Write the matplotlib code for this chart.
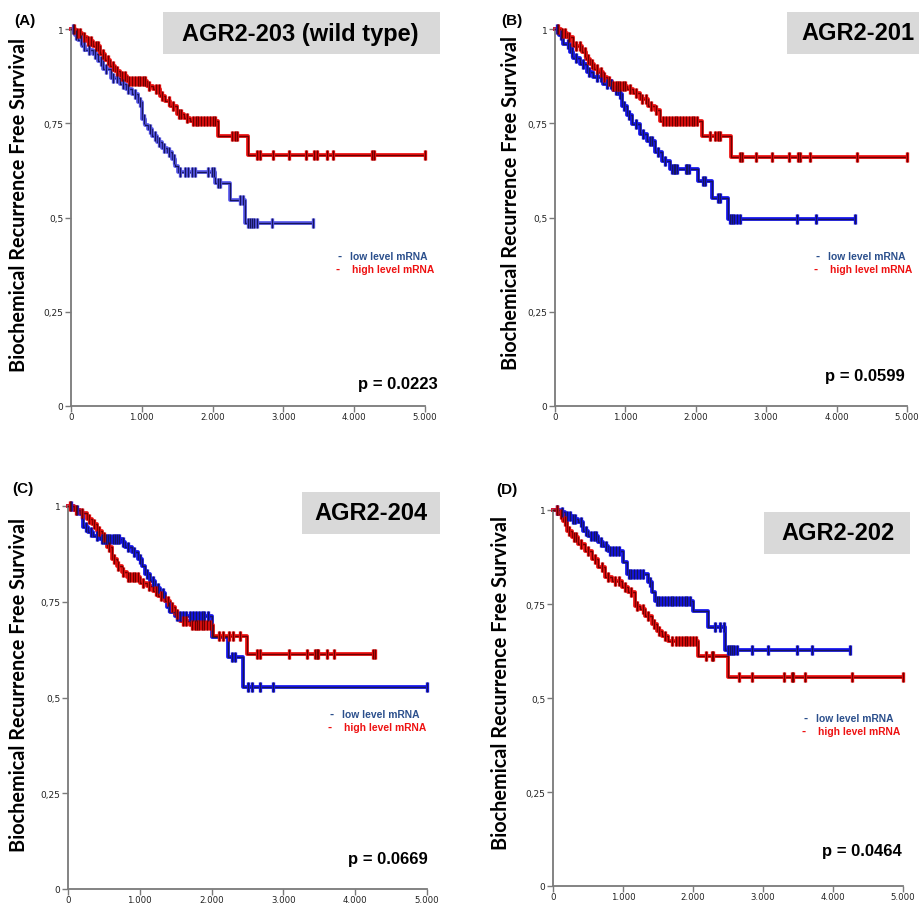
import numpy as np
import matplotlib.pyplot as plt
from matplotlib.patches import Rectangle

W, H = 920, 904

# ---- panel A: AGR2-203 (wild type) ----
a_low_t = [0, 60, 100, 150, 200, 310, 380, 452, 560, 692, 780, 861, 946, 1003, 1050,
           1088, 1150, 1215, 1290, 1356, 1420, 1469, 1511, 2034, 2246, 2458]
a_low_s = [1, 0.985, 0.97, 0.955, 0.945, 0.935, 0.915, 0.894, 0.87, 0.854, 0.84, 0.828,
           0.806, 0.761, 0.745, 0.735, 0.715, 0.70, 0.685, 0.674, 0.655, 0.637, 0.62,
           0.591, 0.546, 0.485]
a_low_end = 3418
a_low_cens = [30, 70, 140, 180, 260, 340, 420, 500, 600, 650, 740, 800, 900, 980, 1030,
              1120, 1180, 1250, 1320, 1390, 1450, 1540, 1610, 1657, 1704, 1751, 1940,
              1987, 2020, 2081, 2105, 2387, 2425, 2505, 2528, 2560, 2590, 2622, 2834, 3418]
a_high_t = [0, 60, 150, 226, 310, 410, 480, 551, 620, 692, 791, 1074, 1158, 1257, 1330,
            1398, 1497, 1600, 1681, 2076, 2500]
a_high_s = [1, 0.99, 0.98, 0.968, 0.955, 0.934, 0.918, 0.902, 0.888, 0.875, 0.862, 0.85,
            0.84, 0.822, 0.81, 0.796, 0.775, 0.765, 0.756, 0.717, 0.666]
a_high_end = 5000
a_high_cens = [40, 90, 130, 180, 240, 280, 350, 380, 450, 520, 590, 650, 720, 760, 820,
               860, 900, 940, 980, 1010, 1040, 1100, 1200, 1240, 1290, 1380, 1440, 1520,
               1560, 1640, 1720, 1760, 1800, 1840, 1880, 1920, 1960, 2000, 2040, 2270,
               2316, 2340, 2622, 2669, 2857, 3084, 3319, 3432, 3470, 3611, 3696, 4247,
               4280, 5000]

# ---- panel B: AGR2-201 ----
b_low_t = [0, 50, 120, 213, 261, 355, 450, 545, 687, 829, 900, 948, 1019, 1090, 1209,
           1303, 1422, 1517, 1635, 2038, 2227, 2464]
b_low_s = [1, 0.985, 0.96, 0.938, 0.922, 0.907, 0.885, 0.872, 0.854, 0.837, 0.828, 0.797,
           0.771, 0.749, 0.722, 0.704, 0.674, 0.649, 0.628, 0.596, 0.553, 0.497]
b_low_end = 4256
b_low_cens = [30, 90, 180, 240, 300, 400, 480, 600, 650, 740, 800, 860, 920, 980, 1050,
              1150, 1250, 1350, 1380, 1460, 1560, 1660, 1690, 1710, 1730, 1860, 1880,
              1900, 2100, 2130, 2320, 2350, 2480, 2510, 2540, 2580, 2630, 3436, 3711, 4256]
b_high_t = [0, 80, 166, 261, 379, 440, 498, 560, 616, 680, 735, 806, 1019, 1114, 1209,
            1327, 1422, 1493, 2085, 2498]
b_high_s = [1, 0.99, 0.978, 0.956, 0.938, 0.92, 0.907, 0.895, 0.885, 0.873, 0.863, 0.85,
            0.84, 0.83, 0.815, 0.797, 0.784, 0.757, 0.716, 0.66]
b_high_end = 5000
b_high_cens = [40, 100, 140, 200, 300, 350, 420, 470, 530, 590, 650, 700, 760, 830, 870,
               900, 930, 960, 990, 1060, 1150, 1240, 1290, 1360, 1440, 1540, 1580, 1620,
               1660, 1700, 1740, 1780, 1820, 1860, 1900, 1940, 1980, 2020, 2204, 2275,
               2322, 2346, 2621, 2663, 2858, 3081, 3318, 3445, 3483, 3616, 4289, 5000]

# ---- panel C: AGR2-204 ----
c_low_t = [0, 80, 167, 213, 283, 353, 446, 747, 794, 887, 980, 1026, 1072, 1142, 1212,
           1281, 1351, 1374, 1421, 1490, 2001, 2233, 2442]
c_low_s = [1, 0.99, 0.979, 0.944, 0.931, 0.922, 0.914, 0.905, 0.892, 0.879, 0.861, 0.844,
           0.822, 0.805, 0.787, 0.774, 0.752, 0.735, 0.722, 0.712, 0.657, 0.605, 0.528]
c_low_end = 5000
c_low_cens = [40, 120, 190, 250, 320, 400, 470, 500, 530, 560, 590, 620, 650, 680, 710,
              760, 840, 920, 1000, 1100, 1180, 1250, 1320, 1400, 1520, 1560, 1600, 1640,
              1700, 1740, 1780, 1820, 1860, 1900, 1950, 2280, 2330, 2512, 2558, 2674,
              2860, 5000]
c_high_t = [0, 80, 167, 260, 330, 399, 469, 539, 608, 678, 747, 817, 1003, 1096, 1189,
            1258, 1351, 1421, 1490, 1560, 1699, 2024, 2488]
c_high_s = [1, 0.99, 0.983, 0.966, 0.953, 0.936, 0.918, 0.892, 0.861, 0.844, 0.827, 0.814,
            0.80, 0.792, 0.779, 0.766, 0.753, 0.735, 0.718, 0.70, 0.689, 0.661, 0.613]
c_high_end = 4276
c_high_cens = [30, 110, 200, 290, 360, 430, 500, 570, 640, 700, 770, 840, 870, 900, 940,
               970, 1040, 1130, 1220, 1300, 1390, 1450, 1520, 1600, 1640, 1730, 1770,
               1800, 1830, 1860, 1900, 1940, 1980, 2100, 2160, 2240, 2300, 2400, 2628,
               2674, 3083, 3324, 3440, 3463, 3486, 3602, 3705, 4253, 4276]

# ---- panel D: AGR2-202 ----
d_low_t = [0, 100, 171, 267, 362, 433, 505, 648, 719, 790, 1005, 1052, 1362, 1410, 1457,
           2005, 2210, 2457]
d_low_s = [1, 0.994, 0.985, 0.976, 0.967, 0.945, 0.932, 0.914, 0.905, 0.892, 0.861, 0.83,
           0.808, 0.781, 0.759, 0.732, 0.688, 0.628]
d_low_end = 4243
d_low_cens = [60, 130, 200, 240, 280, 320, 400, 470, 540, 580, 620, 680, 750, 820, 860,
              900, 940, 1080, 1120, 1160, 1200, 1240, 1280, 1390, 1480, 1520, 1560, 1600,
              1640, 1680, 1720, 1760, 1800, 1840, 1880, 1920, 1960, 2314, 2386, 2448,
              2495, 2529, 2560, 2590, 2624, 2838, 3067, 3481, 3695, 4243]
d_high_t = [0, 76, 148, 195, 267, 362, 457, 552, 648, 743, 838, 981, 1076, 1171, 1243,
            1314, 1410, 1481, 1552, 1648, 2076, 2495]
d_high_s = [1, 0.989, 0.972, 0.945, 0.927, 0.91, 0.892, 0.87, 0.848, 0.821, 0.812, 0.794,
            0.781, 0.746, 0.737, 0.719, 0.697, 0.679, 0.666, 0.652, 0.613, 0.555]
d_high_end = 5000
d_high_cens = [50, 120, 170, 230, 300, 330, 400, 500, 600, 700, 780, 880, 940, 1030, 1120,
               1200, 1280, 1350, 1440, 1520, 1600, 1700, 1760, 1800, 1840, 1880, 1920,
               1960, 2000, 2040, 2181, 2267, 2290, 2662, 2848, 3305, 3410, 3433, 3600,
               4276, 5000]

panel_letters = ["(A)", "(B)", "(C)", "(D)"]
panel_titles = ["AGR2-203 (wild type)", "AGR2-201", "AGR2-204", "AGR2-202"]
p_values = ["p = 0.0223", "p = 0.0599", "p = 0.0669", "p = 0.0464"]
y_ticks = [0, 0.25, 0.5, 0.75, 1]
y_tick_labels = ["0", "0,25", "0,5", "0,75", "1"]
x_ticks = [0, 1000, 2000, 3000, 4000, 5000]
x_tick_labels = ["0", "1.000", "2.000", "3.000", "4.000", "5.000"]

BLUE_LIGHT = ["#5b5bef", "#1414f0", "#1414f0", "#1414f0"]
BLUE_DARK = "#16165c"
RED_LIGHT = "#ee1111"
RED_DARK = "#6e0000"


def fx(px):
    return px / W


def fy(py):
    return 1 - py / H


def draw_curve(ax, t, s, t_end, cens, light, dark):
    tt = list(t) + [t_end]
    ss = list(s) + [s[-1]]
    ax.step(tt, ss, where="post", color=light, lw=2.7, clip_on=False, zorder=2)
    ax.step(tt, ss, where="post", color=dark, lw=1.0, clip_on=False, zorder=3)
    idx = np.searchsorted(t, cens, side="right") - 1
    cy = np.asarray(s)[idx]
    ax.plot(cens, cy, ls="none", marker="|", ms=7.5, mew=2.4, color=light, clip_on=False, zorder=4)
    ax.plot(cens, cy, ls="none", marker="|", ms=7, mew=1.0, color=dark, clip_on=False, zorder=5)


fig = plt.figure(figsize=(9.2, 9.04), dpi=100)

# axes boxes in pixels: left, right, top, bottom
axes_px = [(71, 425, 30, 407), (555, 907, 30, 407), (68, 427, 507, 890), (553, 903, 511, 887)]
curves = [
    (a_low_t, a_low_s, a_low_end, a_low_cens, a_high_t, a_high_s, a_high_end, a_high_cens),
    (b_low_t, b_low_s, b_low_end, b_low_cens, b_high_t, b_high_s, b_high_end, b_high_cens),
    (c_low_t, c_low_s, c_low_end, c_low_cens, c_high_t, c_high_s, c_high_end, c_high_cens),
    (d_low_t, d_low_s, d_low_end, d_low_cens, d_high_t, d_high_s, d_high_end, d_high_cens),
]
letter_px = [(25, 21), (512, 21), (23, 489), (507, 490)]
title_box_px = [(163, 440, 13, 55), (787, 925, 13, 55), (302, 440, 493, 535), (764, 910, 513, 555)]
title_center_px = [(300, 34), (858, 34), (371, 514), (838, 534)]
ylabel_px = [(19, 205), (511, 203), (19, 685), (501, 683)]
legend_px = [(340, 257), (818, 257), (332, 715), (806, 719)]
p_px = [(398, 384), (865, 377), (388, 860), (862, 852)]

for i in range(4):
    l, r, t, b = axes_px[i]
    ax = fig.add_axes([fx(l), fy(b), (r - l) / W, (b - t) / H])
    lt, ls, le, lc, ht, hs, he, hc = curves[i]
    draw_curve(ax, lt, ls, le, lc, BLUE_LIGHT[i], BLUE_DARK)
    draw_curve(ax, ht, hs, he, hc, RED_LIGHT, RED_DARK)
    ax.set_xlim(0, 5000)
    ax.set_ylim(0, 1)
    ax.set_xticks(x_ticks)
    ax.set_xticklabels(x_tick_labels)
    ax.set_yticks(y_ticks)
    ax.set_yticklabels(y_tick_labels)
    for side in ("top", "right"):
        ax.spines[side].set_visible(False)
    for side in ("left", "bottom"):
        ax.spines[side].set_color("#7a7a7a")
        ax.spines[side].set_linewidth(1.3)
    ax.tick_params(direction="out", length=4, width=1, color="#7a7a7a",
                   labelsize=6.5, labelcolor="#222222", pad=1.5)
    ax.tick_params(axis="x", pad=0.5, labelsize=6.2)

    fig.text(fx(letter_px[i][0]), fy(letter_px[i][1]), panel_letters[i], ha="center",
             va="center", fontsize=11, fontweight="bold", family="Liberation Sans")

    bl, br, bt, bb = title_box_px[i]
    fig.patches.append(Rectangle((fx(bl), fy(bb)), (br - bl) / W, (bb - bt) / H,
                                 transform=fig.transFigure, facecolor="#d9d9d9",
                                 edgecolor="none", zorder=0))
    fig.text(fx(title_center_px[i][0]), fy(title_center_px[i][1]), panel_titles[i],
             ha="center", va="center", fontsize=17, fontweight="bold",
             family="Liberation Sans")

    fig.text(fx(ylabel_px[i][0]), fy(ylabel_px[i][1]), "Biochemical Recurrence Free Survival",
             rotation=90, ha="center", va="center", fontsize=14.3, fontweight="bold",
             family="Lato")

    lx, ly = legend_px[i]
    fig.text(fx(lx), fy(ly), "-", ha="center", va="center", fontsize=9, fontweight="bold",
             color="#2b4f8c", family="Liberation Sans")
    fig.text(fx(lx + 10), fy(ly), "low level mRNA", ha="left", va="center", fontsize=7.4,
             fontweight="bold", color="#2b4f8c", family="Liberation Sans")
    fig.text(fx(lx - 2), fy(ly + 13), "-", ha="center", va="center", fontsize=9,
             fontweight="bold", color="#ee1111", family="Liberation Sans")
    fig.text(fx(lx + 12), fy(ly + 13), "high level mRNA", ha="left", va="center",
             fontsize=7.4, fontweight="bold", color="#ee1111", family="Liberation Sans")

    fig.text(fx(p_px[i][0]), fy(p_px[i][1]), p_values[i], ha="center", va="center",
             fontsize=12, fontweight="bold", family="Liberation Sans")

fig.savefig("out.png", dpi=100)
